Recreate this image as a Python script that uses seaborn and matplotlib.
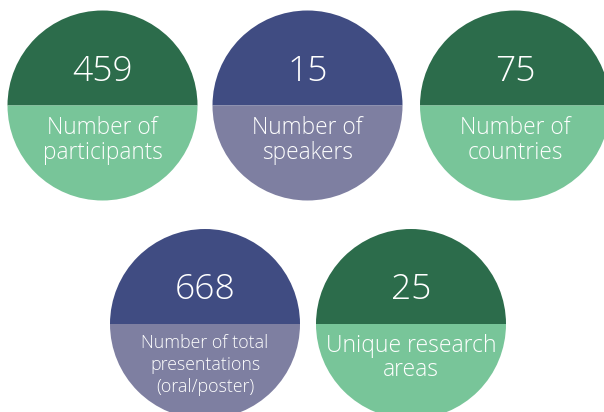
import matplotlib
matplotlib.use("Agg")
import matplotlib.pyplot as plt
from matplotlib.patches import Wedge
import seaborn as sns

# ---- data ----
values = ["459", "15", "75", "668", "25"]
labels = ["Number of\nparticipants", "Number of\nspeakers", "Number of\ncountries",
          "Number of total\npresentations\n(oral/poster)", "Unique research\nareas"]
themes = ["green", "blue", "green", "blue", "green"]

# ---- styles / layout ----
palette = {"green": ("#2c6c4b", "#78c599"), "blue": ("#404c82", "#7e7fa1")}
centers = [(102.5, 105.5), (307.5, 105.5), (515, 105.5), (205, 324), (411, 324)]
radius = 95
label_sizes = [16.3, 16.3, 16.3, 12.8, 16.5]
label_offsets = [35, 35, 35, 41, 34]
label_spacing = [1.05, 1.05, 1.05, 1.3, 1.05]

sns.set_theme(style="white")
plt.rcParams["font.family"] = ["Open Sans", "DejaVu Sans"]

fig = plt.figure(figsize=(6.04, 4.12), dpi=100)
ax = fig.add_axes([0, 0, 1, 1])
ax.set_xlim(0, 604)
ax.set_ylim(412, 0)
ax.set_aspect("equal")
ax.axis("off")

for i, (val, lab, th) in enumerate(zip(values, labels, themes)):
    cx, cy = centers[i]
    dark, light = palette[th]
    ax.add_patch(Wedge((cx, cy), radius, 180, 360, facecolor=dark, edgecolor="none"))
    ax.add_patch(Wedge((cx, cy), radius, 0, 180, facecolor=light, edgecolor="none"))
    ax.text(cx, cy - 34, val, color="white", fontsize=25.5, fontweight="light",
            ha="center", va="center")
    ax.text(cx, cy + label_offsets[i], lab, color="white", fontsize=label_sizes[i],
            fontweight="light", ha="center", va="center", linespacing=label_spacing[i],
            multialignment="center")

fig.savefig("out.png", dpi=100)
